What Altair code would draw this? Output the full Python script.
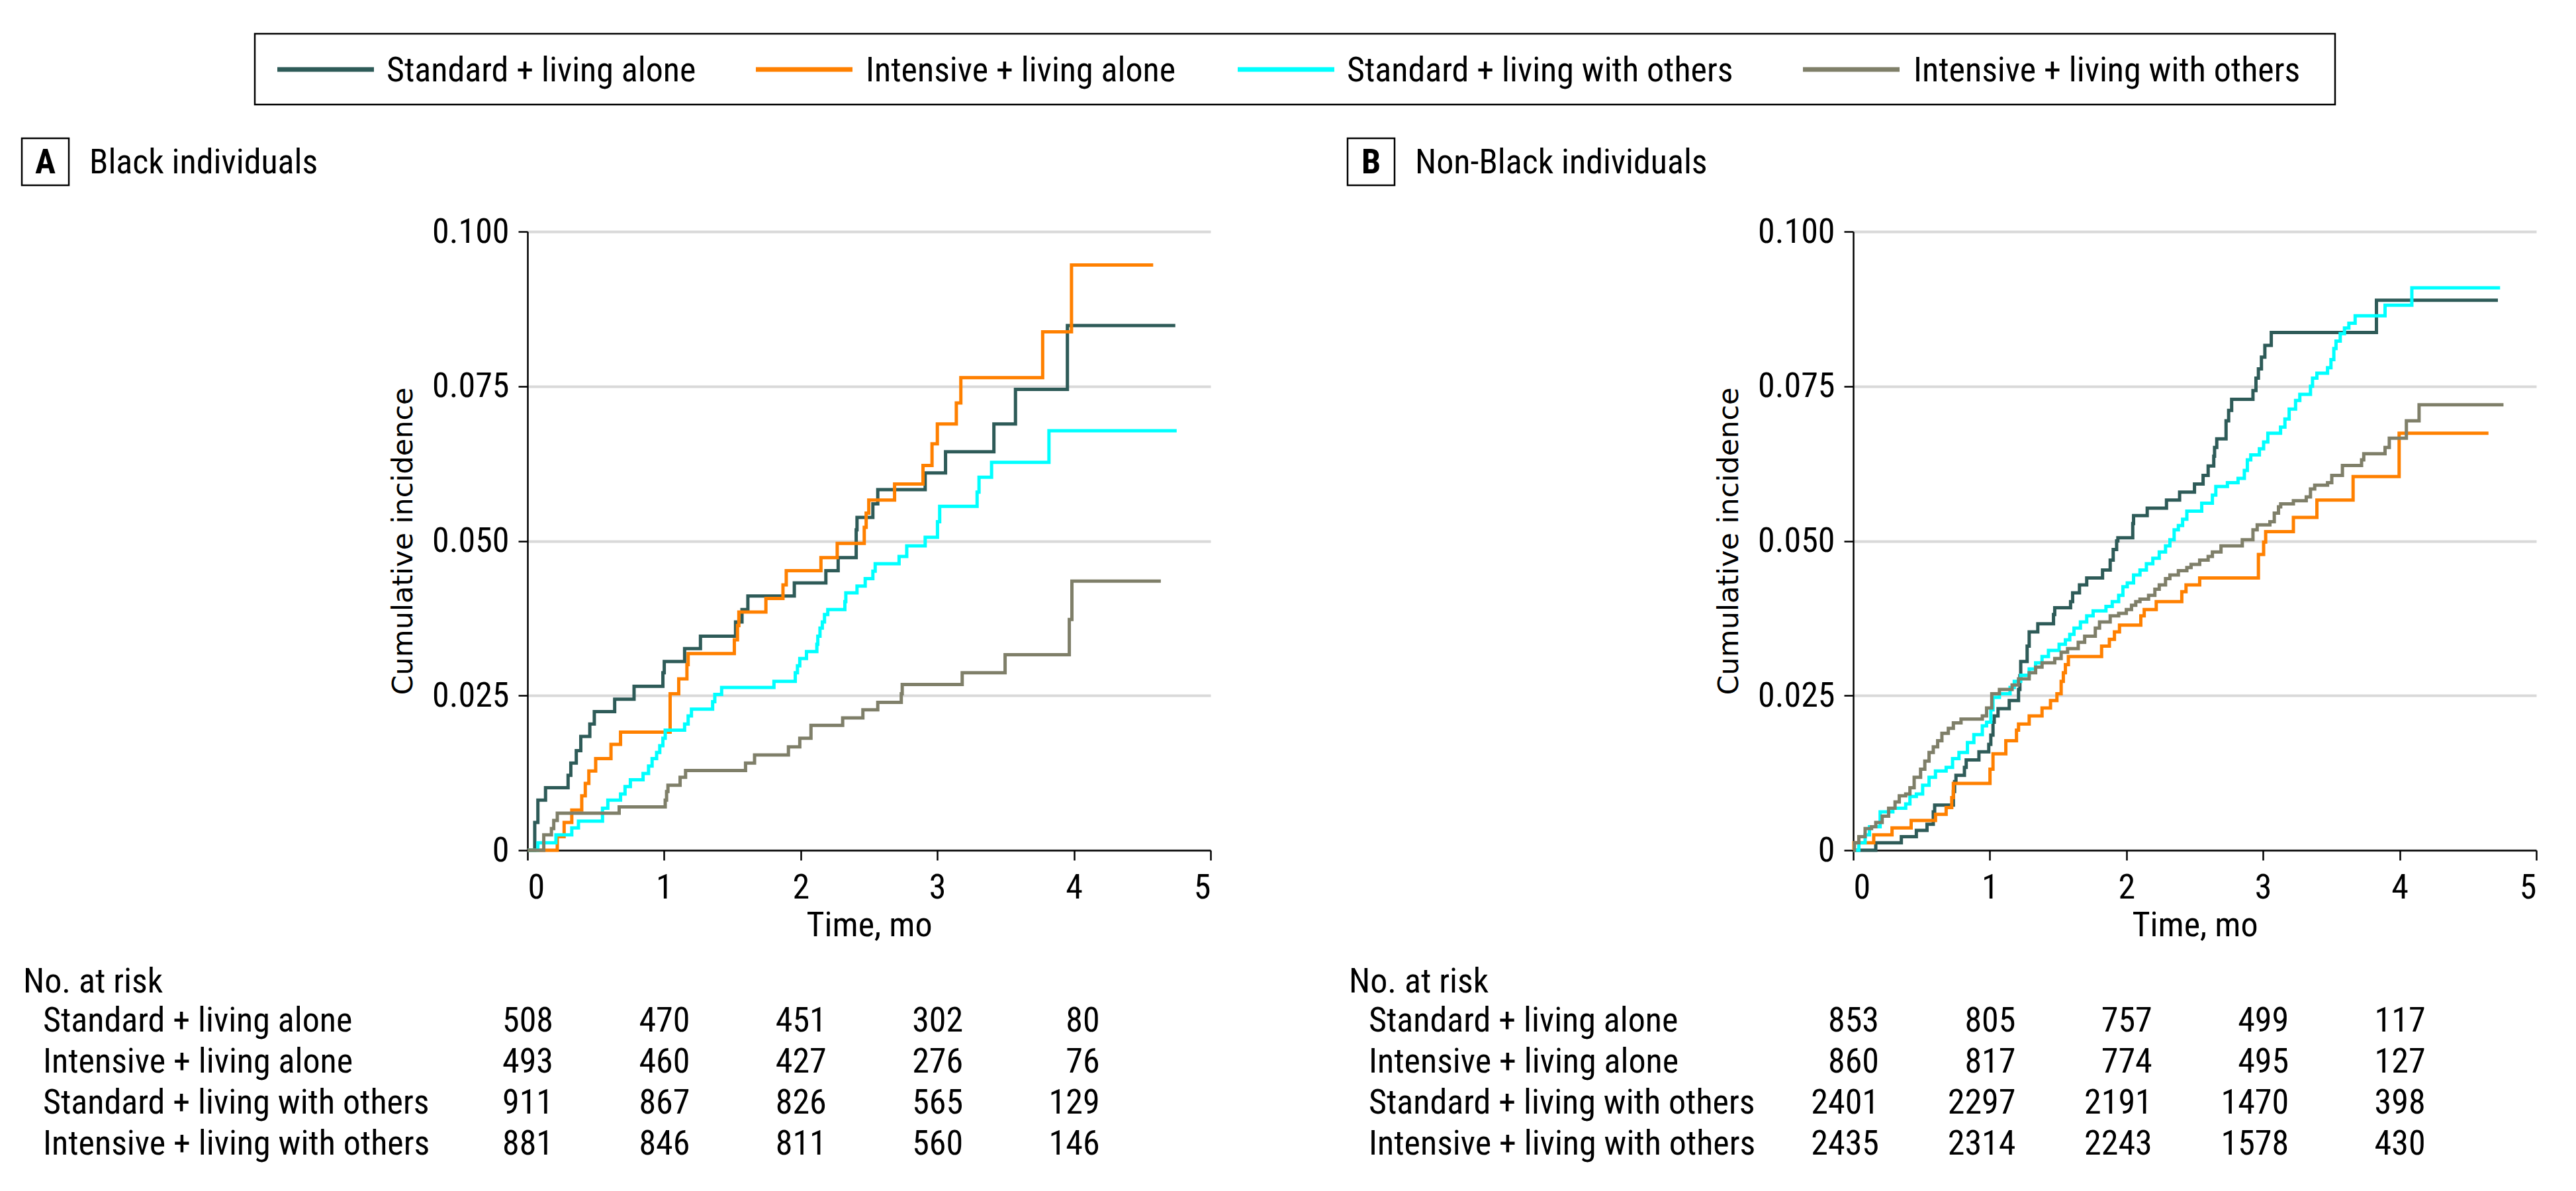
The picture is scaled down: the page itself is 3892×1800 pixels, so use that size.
import altair as alt
import pandas as pd

# ---------------- data ----------------
GROUPS = ["Standard + living alone", "Intensive + living alone",
          "Standard + living with others", "Intensive + living with others"]
COLORS = ["#2e5b58", "#ff8000", "#00ffff", "#7f7f69"]

# Panel A: Black individuals (jump times in months, cumulative incidence after jump)
A_STD_ALONE_T = [0.053, 0.076, 0.132, 0.297, 0.317, 0.357, 0.39, 0.456, 0.489, 0.638, 0.78, 0.991, 1.001,
                 1.15, 1.266, 1.523, 1.57, 1.613, 1.953, 2.184, 2.274, 2.406, 2.412, 2.528, 2.564, 2.911,
                 3.06, 3.414, 3.572, 3.952]
A_STD_ALONE_V = [0.0045, 0.0081, 0.0101, 0.0121, 0.0141, 0.0161, 0.0184, 0.0204, 0.0224, 0.0244, 0.0265,
                 0.0287, 0.0305, 0.0326, 0.0346, 0.0369, 0.0389, 0.0411, 0.0432, 0.0452, 0.0473, 0.0518,
                 0.0538, 0.056, 0.0583, 0.061, 0.0644, 0.0689, 0.0745, 0.0848]
A_INT_ALONE_T = [0.218, 0.268, 0.324, 0.397, 0.423, 0.449, 0.499, 0.611, 0.681, 1.044, 1.107, 1.167, 1.176,
                 1.514, 1.537, 1.547, 1.745, 1.87, 1.894, 2.148, 2.267, 2.465, 2.479, 2.498, 2.687, 2.895,
                 2.961, 3.0, 3.139, 3.172, 3.771, 3.982]
A_INT_ALONE_V = [0.0022, 0.0045, 0.0065, 0.0088, 0.0108, 0.0128, 0.0148, 0.0171, 0.0191, 0.0253, 0.0277,
                 0.03, 0.0318, 0.034, 0.0363, 0.0385, 0.0407, 0.0429, 0.0452, 0.0473, 0.0496, 0.0522,
                 0.0545, 0.0566, 0.0592, 0.0622, 0.0657, 0.0689, 0.0723, 0.0764, 0.0838, 0.0946]
A_STD_OTHERS_T = [0.076, 0.208, 0.324, 0.373, 0.549, 0.588, 0.681, 0.714, 0.753, 0.846, 0.886, 0.912, 0.945,
                  0.968, 0.991, 1.008, 1.15, 1.176, 1.2, 1.355, 1.371, 1.421, 1.804, 1.96, 1.976, 1.993,
                  2.042, 2.118, 2.125, 2.141, 2.158, 2.174, 2.198, 2.323, 2.33, 2.412, 2.472, 2.528, 2.545,
                  2.72, 2.776, 2.911, 3.001, 3.017, 3.291, 3.305, 3.397, 3.817]
A_STD_OTHERS_V = [0.0012, 0.0025, 0.0036, 0.0047, 0.0068, 0.0081, 0.0091, 0.0103, 0.0114, 0.0124, 0.0136,
                  0.0148, 0.0158, 0.0169, 0.0181, 0.0194, 0.0204, 0.0217, 0.0228, 0.024, 0.0252, 0.0263,
                  0.0273, 0.0287, 0.0298, 0.031, 0.0321, 0.0333, 0.0346, 0.0359, 0.0369, 0.0381, 0.0389,
                  0.0402, 0.0416, 0.0427, 0.0439, 0.0451, 0.0463, 0.0475, 0.0492, 0.0506, 0.0531, 0.0556,
                  0.0579, 0.0603, 0.0627, 0.0678]
A_INT_OTHERS_T = [0.119, 0.175, 0.192, 0.218, 0.671, 1.008, 1.018, 1.028, 1.117, 1.157, 1.596, 1.662, 1.91,
                  1.993, 2.075, 2.307, 2.455, 2.564, 2.736, 2.743, 3.182, 3.496, 3.966, 3.985]
A_INT_OTHERS_V = [0.0025, 0.0035, 0.0048, 0.006, 0.007, 0.0081, 0.0095, 0.0105, 0.0118, 0.0129, 0.0141,
                  0.0154, 0.0167, 0.0181, 0.0202, 0.0214, 0.0227, 0.0239, 0.0253, 0.0268, 0.0287, 0.0316,
                  0.0373, 0.0435]
A_END = [4.742, 4.58, 4.752, 4.636]

# Panel B: Non-Black individuals
B_STD_ALONE_T = [0.165, 0.352, 0.462, 0.54, 0.586, 0.596, 0.733, 0.742, 0.752, 0.814, 0.827, 0.92, 0.992,
                 1.007, 1.023, 1.032, 1.06, 1.142, 1.21, 1.22, 1.226, 1.273, 1.288, 1.351, 1.466, 1.475,
                 1.591, 1.606, 1.656, 1.709, 1.825, 1.881, 1.903, 1.928, 1.937, 2.046, 2.052, 2.152, 2.293,
                 2.389, 2.498, 2.561, 2.598, 2.639, 2.645, 2.661, 2.729, 2.748, 2.77, 2.926, 2.948, 2.966,
                 2.988, 3.013, 3.06, 3.83]
B_STD_ALONE_V = [0.0012, 0.0022, 0.0032, 0.0042, 0.0062, 0.0073, 0.0095, 0.0111, 0.0121, 0.0134, 0.0146,
                 0.0159, 0.0171, 0.0186, 0.0207, 0.0217, 0.0229, 0.0242, 0.026, 0.0282, 0.0305, 0.033,
                 0.0353, 0.0366, 0.0381, 0.0392, 0.0402, 0.0416, 0.0429, 0.044, 0.0453, 0.0469, 0.0486,
                 0.05, 0.0505, 0.0528, 0.0541, 0.0553, 0.0566, 0.0579, 0.0592, 0.0606, 0.0621, 0.0637,
                 0.0651, 0.0665, 0.0694, 0.0711, 0.0729, 0.0743, 0.0763, 0.0778, 0.0797, 0.0816, 0.0837,
                 0.0889]
B_INT_ALONE_T = [0.005, 0.15, 0.284, 0.424, 0.602, 0.68, 0.721, 0.733, 1.001, 1.023, 1.117, 1.195, 1.21,
                 1.288, 1.382, 1.444, 1.491, 1.522, 1.538, 1.553, 1.575, 1.818, 1.875, 1.912, 1.949, 2.105,
                 2.13, 2.218, 2.405, 2.436, 2.536, 2.966, 3.004, 3.019, 3.222, 3.394, 3.659, 3.996]
B_INT_ALONE_V = [0.0012, 0.0025, 0.0036, 0.0048, 0.0058, 0.0069, 0.0085, 0.0108, 0.0131, 0.0156, 0.0177,
                 0.0194, 0.0204, 0.0217, 0.023, 0.0242, 0.0253, 0.0273, 0.0287, 0.03, 0.0313, 0.033,
                 0.0341, 0.0353, 0.0364, 0.0379, 0.0389, 0.0402, 0.0418, 0.0429, 0.044, 0.0478, 0.0498,
                 0.0515, 0.0538, 0.0566, 0.0604, 0.0674]
B_STD_OTHERS_T = [0.041, 0.087, 0.119, 0.197, 0.29, 0.384, 0.415, 0.462, 0.508, 0.555, 0.602, 0.68, 0.727,
                  0.774, 0.836, 0.883, 0.945, 0.976, 1.007, 1.023, 1.07, 1.148, 1.179, 1.226, 1.288, 1.335,
                  1.382, 1.429, 1.507, 1.553, 1.585, 1.616, 1.663, 1.709, 1.756, 1.85, 1.896, 1.943, 1.974,
                  2.006, 2.052, 2.099, 2.146, 2.193, 2.24, 2.286, 2.318, 2.349, 2.38, 2.411, 2.442, 2.551,
                  2.629, 2.654, 2.739, 2.817, 2.863, 2.885, 2.91, 2.973, 3.004, 3.035, 3.128, 3.16, 3.191,
                  3.238, 3.269, 3.347, 3.362, 3.394, 3.472, 3.497, 3.518, 3.534, 3.565, 3.596, 3.628, 3.674,
                  3.893, 4.089]
B_STD_OTHERS_V = [0.0012, 0.0025, 0.0038, 0.0062, 0.0068, 0.0075, 0.0087, 0.0091, 0.0105, 0.0118, 0.0128,
                  0.0134, 0.0148, 0.0158, 0.0174, 0.0187, 0.0201, 0.0207, 0.0227, 0.0247, 0.0253, 0.0263,
                  0.0273, 0.0283, 0.0293, 0.0303, 0.0313, 0.0323, 0.0333, 0.034, 0.0349, 0.0359, 0.0369,
                  0.0379, 0.0387, 0.0394, 0.0402, 0.0412, 0.0426, 0.0432, 0.0445, 0.0453, 0.0463, 0.0472,
                  0.0482, 0.0492, 0.0502, 0.0518, 0.0525, 0.0535, 0.0548, 0.0561, 0.0574, 0.0588, 0.0594,
                  0.0601, 0.0614, 0.0631, 0.0639, 0.0649, 0.066, 0.0674, 0.0684, 0.0697, 0.0713, 0.0727,
                  0.0737, 0.075, 0.0763, 0.0771, 0.078, 0.0793, 0.0811, 0.0823, 0.0835, 0.0844, 0.0852,
                  0.0864, 0.0881, 0.0909]
B_INT_OTHERS_T = [0.009, 0.041, 0.087, 0.134, 0.165, 0.212, 0.259, 0.306, 0.337, 0.384, 0.415, 0.446, 0.493,
                  0.524, 0.555, 0.586, 0.618, 0.649, 0.696, 0.733, 0.789, 0.945, 0.976, 1.014, 1.07, 1.163,
                  1.21, 1.288, 1.335, 1.382, 1.475, 1.522, 1.569, 1.647, 1.694, 1.772, 1.803, 1.881, 1.943,
                  1.999, 2.037, 2.068, 2.099, 2.162, 2.208, 2.24, 2.286, 2.318, 2.38, 2.442, 2.473, 2.536,
                  2.598, 2.629, 2.692, 2.848, 2.926, 2.957, 3.05, 3.082, 3.113, 3.129, 3.222, 3.316, 3.347,
                  3.378, 3.472, 3.503, 3.581, 3.721, 3.737, 3.893, 3.924, 4.049, 4.142]
B_INT_OTHERS_V = [0.0012, 0.0022, 0.0035, 0.0038, 0.0045, 0.0055, 0.0068, 0.0078, 0.0088, 0.0091, 0.0101,
                  0.0118, 0.0131, 0.0144, 0.0158, 0.0167, 0.0177, 0.0189, 0.0197, 0.0206, 0.0212, 0.0217,
                  0.023, 0.0253, 0.026, 0.0267, 0.0277, 0.0287, 0.0296, 0.0303, 0.031, 0.032, 0.0326,
                  0.0336, 0.0346, 0.0359, 0.0369, 0.0379, 0.0383, 0.0389, 0.0396, 0.0402, 0.0406, 0.0412,
                  0.0422, 0.0429, 0.0439, 0.0445, 0.0452, 0.0457, 0.0462, 0.0469, 0.0475, 0.0482, 0.0492,
                  0.0502, 0.0518, 0.0526, 0.0531, 0.0545, 0.0555, 0.056, 0.0565, 0.0571, 0.0584, 0.059,
                  0.0594, 0.0606, 0.0622, 0.0631, 0.0641, 0.0651, 0.0666, 0.0694, 0.072]
B_END = [4.719, 4.65, 4.735, 4.76]

# Number at risk
RISK_TIMES = [0, 1, 2, 3, 4]
RISK_A = [[508, 470, 451, 302, 80],
          [493, 460, 427, 276, 76],
          [911, 867, 826, 565, 129],
          [881, 846, 811, 560, 146]]
RISK_B = [[853, 805, 757, 499, 117],
          [860, 817, 774, 495, 127],
          [2401, 2297, 2191, 1470, 398],
          [2435, 2314, 2243, 1578, 430]]

# ---------------- styling / layout ----------------
COND = "Roboto Condensed"
SANS = "DejaVu Sans"
FS = 52
PW, PH = 1032, 935
ROW_Y = [1209, 1271, 1333, 1395]
NO_AT_RISK_Y = 1150


def curves_df(series, ends):
    rows = []
    for (ts, vs), end, g in zip(series, ends, GROUPS):
        rows.append({"time": 0.0, "value": 0.0, "group": g})
        for t, v in zip(ts, vs):
            rows.append({"time": t, "value": v, "group": g})
        rows.append({"time": end, "value": vs[-1], "group": g})
    return pd.DataFrame(rows)


def panel(series, ends, risk, letter, title):
    df = curves_df(series, ends)
    xs = alt.Scale(domain=[0, 5], nice=False, zero=False)
    ys = alt.Scale(domain=[0, 0.1], nice=False)
    lines = alt.Chart(df).mark_line(interpolate="step-after", strokeWidth=5, clip=False).encode(
        x=alt.X("time:Q", scale=xs, axis=alt.Axis(
            values=[0, 1, 2, 3, 4, 5], format="d", title="Time, mo", grid=False,
            labelFont=COND, labelFontSize=FS, labelColor="black", labelPadding=16,
            titleFont=COND, titleFontSize=FS, titleFontWeight="normal", titleColor="black",
            titlePadding=6, tickSize=15, tickWidth=2.5, tickColor="black",
            domainColor="black", domainWidth=2.5)),
        y=alt.Y("value:Q", scale=ys, axis=alt.Axis(
            values=[0, 0.025, 0.05, 0.075, 0.1],
            labelExpr="datum.value == 0 ? '0' : format(datum.value, '.3f')",
            title="Cumulative incidence", grid=True, gridColor="#d9d9d9", gridWidth=4,
            labelFont=COND, labelFontSize=FS, labelColor="black", labelPadding=14,
            titleFont=SANS, titleFontSize=43, titleFontWeight="normal", titleColor="black",
            titlePadding=21, tickSize=14, tickWidth=2.5, tickColor="black",
            domainColor="black", domainWidth=2.5)),
        color=alt.Color("group:N", scale=alt.Scale(domain=GROUPS, range=COLORS), legend=None),
        detail="group:N",
        order="time:Q",
    )
    layers = [lines]
    one = pd.DataFrame({"k": [0]})
    # header
    layers.append(alt.Chart(one).mark_rect(fillOpacity=0, stroke="black", strokeWidth=2.5).encode(
        x=alt.value(-764), x2=alt.value(-693), y=alt.value(-141), y2=alt.value(-70)))
    layers.append(alt.Chart(pd.DataFrame({"t": [letter]})).mark_text(
        font=COND, fontSize=FS, fontWeight="bold", align="center", baseline="alphabetic").encode(
        text="t:N", x=alt.value(-728.5), y=alt.value(-88)))
    layers.append(alt.Chart(pd.DataFrame({"t": [title]})).mark_text(
        font=COND, fontSize=FS, align="left", baseline="alphabetic").encode(
        text="t:N", x=alt.value(-662), y=alt.value(-88)))
    # number at risk table
    layers.append(alt.Chart(pd.DataFrame({"t": ["No. at risk"]})).mark_text(
        font=COND, fontSize=FS, align="left", baseline="alphabetic").encode(
        text="t:N", x=alt.value(-762), y=alt.value(NO_AT_RISK_Y)))
    for i, g in enumerate(GROUPS):
        layers.append(alt.Chart(pd.DataFrame({"t": [g]})).mark_text(
            font=COND, fontSize=FS, align="left", baseline="alphabetic").encode(
            text="t:N", x=alt.value(-732), y=alt.value(ROW_Y[i])))
        rdf = pd.DataFrame({"time": RISK_TIMES, "n": [str(v) for v in risk[i]]})
        layers.append(alt.Chart(rdf).mark_text(
            font=COND, fontSize=FS, align="right", baseline="alphabetic", dx=39).encode(
            x=alt.X("time:Q", scale=xs), text="n:N", y=alt.value(ROW_Y[i])))
    return alt.layer(*layers).properties(width=PW, height=PH)


panel_a = panel([(A_STD_ALONE_T, A_STD_ALONE_V), (A_INT_ALONE_T, A_INT_ALONE_V),
                 (A_STD_OTHERS_T, A_STD_OTHERS_V), (A_INT_OTHERS_T, A_INT_OTHERS_V)],
                A_END, RISK_A, "A", "Black individuals")
panel_b = panel([(B_STD_ALONE_T, B_STD_ALONE_V), (B_INT_ALONE_T, B_INT_ALONE_V),
                 (B_STD_OTHERS_T, B_STD_OTHERS_V), (B_INT_OTHERS_T, B_INT_OTHERS_V)],
                B_END, RISK_B, "B", "Non-Black individuals")

# ---------------- legend (drawn as a small view; origin aligned with panel A plot) ----------------
LEG_BOX = (-412, 2731)
LEG_SYM_X = [-378, 345, 1073, 1927]
LEG_SYM_LEN = 146
LEG_TXT_X = [-213, 511, 1238, 2094]
one = pd.DataFrame({"k": [0]})
leg_layers = [alt.Chart(one).mark_rect(fillOpacity=0, stroke="black", strokeWidth=2.5).encode(
    x=alt.value(LEG_BOX[0]), x2=alt.value(LEG_BOX[1]), y=alt.value(0), y2=alt.value(107))]
for i, g in enumerate(GROUPS):
    leg_layers.append(alt.Chart(one).mark_rule(strokeWidth=7, color=COLORS[i]).encode(
        x=alt.value(LEG_SYM_X[i]), x2=alt.value(LEG_SYM_X[i] + LEG_SYM_LEN), y=alt.value(54)))
    leg_layers.append(alt.Chart(pd.DataFrame({"t": [g]})).mark_text(
        font=COND, fontSize=FS, align="left", baseline="alphabetic").encode(
        text="t:N", x=alt.value(LEG_TXT_X[i]), y=alt.value(72)))
legend = alt.layer(*leg_layers).properties(width=2700, height=107)

chart = alt.vconcat(
    legend,
    alt.hconcat(panel_a, panel_b, spacing=203),
    spacing=47,
).properties(
    padding={"left": 23, "top": 41, "right": 5, "bottom": 5}
).configure_view(stroke=None)

chart.save("out.html", embed_options={"renderer": "svg", "actions": False})
